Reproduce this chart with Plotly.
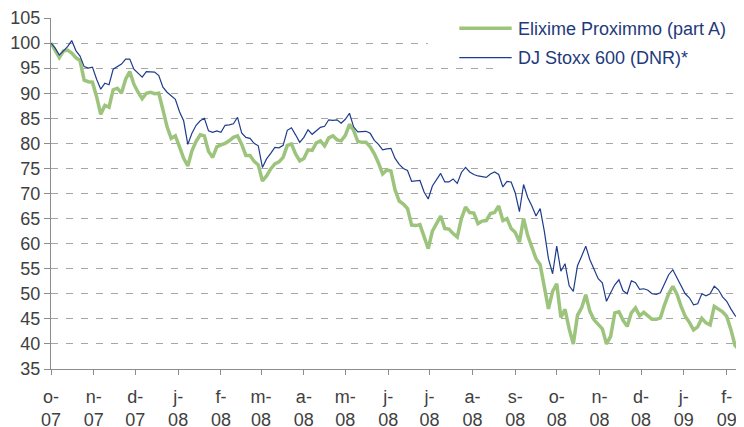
import pandas as pd
import plotly.graph_objects as go

# DJ Stoxx 600 (DNR)* - values read every 3 days from 1 Oct 2007
blue = [
    100, 99, 97.6, 98.4, 99.3, 100.5, 98.5, 97.4, 95.3, 95,
    95.2, 92.8, 90.8, 92, 91.7, 94.8, 95.3, 95.8, 96.8, 96.8,
    94.8, 94, 93.2, 94.3, 94.3, 94.2, 93.5, 91.2, 90.2, 89.4,
    88.8, 86.3, 84.5, 79.8, 82, 83.6, 84.5, 85, 82.5, 82.2,
    82.5, 82.2, 83.6, 83.7, 83.9, 85.2, 82.1, 81.2, 81, 80,
    79.5, 75.2, 76.9, 78, 79.2, 79.1, 79.6, 82.6, 83.1, 81.7,
    80.2, 81.2, 82.7, 81.8, 82.5, 83.2, 83.4, 84.7, 84.6, 84.7,
    84, 84.8, 86, 83.3, 82.3, 82.4, 82.4, 82, 80.6, 79.8,
    78.7, 78.9, 79, 77, 75.8, 75, 74.6, 72.4, 72.5, 72.6,
    70.3, 68.9, 71.5, 72.8, 74, 72.3, 72.3, 72.9, 72, 74.2,
    75.2, 74.3, 73.8, 73.5, 73.3, 73.2, 73.9, 74.3, 73.8, 71.3,
    72.4, 72.3, 70.1, 66.4, 71.8, 69.2, 67.5, 65.5, 67, 62.5,
    57, 54, 59.5, 54.5, 56, 51.6, 50.5, 55.6, 57.5, 59.5,
    56.8, 55, 53, 52.2, 48.5, 50.2, 51.8, 52.8, 50.6, 50,
    52.6, 52.2, 50.9, 51, 50.7, 50, 49.9, 50.2, 52, 53.8,
    54.8, 53.2, 51.6, 50, 49.2, 47.8, 48, 50, 49.6, 50,
    51.5, 50.8, 49.4, 48.5, 47, 45.7, 44.9, 45.5,
]

# Elixime Proximmo (part A)
green = [
    100, 98.6, 97.1, 98.4, 98.6, 98, 97.1, 96.5, 92.6, 92.3,
    92.2, 89.3, 85.8, 87.6, 87.2, 90.7, 91, 90, 92.8, 94.3,
    91.8, 90.2, 88.9, 90, 90.2, 89.9, 90, 86.7, 83.3, 81,
    81.5, 79.3, 77, 75.5, 78.5, 80.4, 81.7, 81.5, 78.4, 77.2,
    79.3, 79.7, 80, 80.5, 81.2, 81.5, 79.8, 77.6, 77.6, 76.4,
    75.7, 72.5, 73.5, 74.9, 75.9, 76.3, 77.2, 79.6, 79.9, 77.9,
    76.5, 77, 78.7, 78.6, 80.1, 80.5, 79.5, 81.1, 81.5, 80.7,
    80.5, 81.6, 83.8, 82.6, 80.4, 80.2, 80.2, 79.3, 77.9, 76.1,
    73.9, 74.7, 74.5, 70.7, 68.5, 67.9, 67, 63.7, 63.6, 63.8,
    61.2, 59, 62.5, 64.1, 65.5, 63, 62.9, 62, 61.3, 65,
    67.3, 66.2, 66.1, 64, 64.5, 64.6, 66, 66.2, 67.5, 64.6,
    65, 63, 62.2, 60.3, 65, 61.6, 59.5, 57, 55.8, 51.7,
    47, 50.5, 52, 45.3, 46.9, 43, 40, 45.7, 47.2, 49.8,
    46.5, 44.8, 44, 43, 40, 41.5, 46.2, 46.4, 44.7, 43.5,
    46.2, 47.2, 45.6, 46.3, 45.6, 44.9, 44.9, 45.2, 47.8, 50,
    51.5, 49.9, 47.5, 45.5, 44.3, 42.8, 43.4, 45.1, 44.2, 43.8,
    47.5, 47, 46.4, 45.5, 42.9, 39.7, 38.8, 39.5,
]

dates = pd.date_range("2007-10-01", periods=len(blue), freq="3D")

tick_dates = ["2007-10-01", "2007-11-01", "2007-12-01", "2008-01-01", "2008-02-01",
              "2008-03-01", "2008-04-01", "2008-05-01", "2008-06-01", "2008-07-01",
              "2008-08-01", "2008-09-01", "2008-10-01", "2008-11-01", "2008-12-01",
              "2009-01-01", "2009-02-01"]
tick_text = ["o-<br>07", "n-<br>07", "d-<br>07", "j-<br>08", "f-<br>08",
             "m-<br>08", "a-<br>08", "m-<br>08", "j-<br>08", "j-<br>08",
             "a-<br>08", "s-<br>08", "o-<br>08", "n-<br>08", "d-<br>08",
             "j-<br>09", "f-<br>09"]

names = ["Elixime Proximmo (part A)", "DJ Stoxx 600 (DNR)*"]
GREEN = "#9DC47C"
BLUE = "#1F3C8C"
TXT = "#404040"
AX = "#8C8C8C"
GRID = "#A6A6A6"

fig = go.Figure()
fig.add_trace(go.Scatter(x=dates, y=green, mode="lines", name=names[0],
                         line=dict(color=GREEN, width=3.5), showlegend=False))
fig.add_trace(go.Scatter(x=dates, y=blue, mode="lines", name=names[1],
                         line=dict(color=BLUE, width=1.2), showlegend=False))

# page has an 8px body margin: figure is placed at (8, 8)
OFF = 8
W, H = 744 - OFF, 427 - OFF
L, R, T, B = 51 - OFF, 1, 18 - OFF, 58
pw, ph = W - L - R, H - T - B

def px(x):
    # x given in page pixels
    return (x - OFF - L) / pw

def py(y):
    # y given in page pixels
    return (H - B - (y - OFF)) / ph

shapes = [
    dict(type="rect", xref="paper", yref="paper", x0=px(428), x1=1.0, y0=py(50), y1=py(10),
         fillcolor="white", line=dict(width=0), layer="above"),
    dict(type="rect", xref="paper", yref="paper", x0=px(500), x1=1.0, y0=py(78), y1=py(10),
         fillcolor="white", line=dict(width=0), layer="above"),
    dict(type="line", xref="paper", yref="paper", x0=px(459.3), x1=px(511.7), y0=py(28.3), y1=py(28.3),
         line=dict(color=GREEN, width=3.5), layer="above"),
    dict(type="line", xref="paper", yref="paper", x0=px(459.3), x1=px(511.7), y0=py(57.7), y1=py(57.7),
         line=dict(color=BLUE, width=1.2), layer="above"),
]
annotations = [
    dict(xref="paper", yref="paper", x=px(515.5), y=py(29.5), text=names[0], showarrow=False,
         xanchor="left", yanchor="middle", font=dict(size=18, color="#1F3A7A")),
    dict(xref="paper", yref="paper", x=px(515.5), y=py(58), text=names[1], showarrow=False,
         xanchor="left", yanchor="middle", font=dict(size=18, color="#1F3A7A")),
]

fig.update_layout(
    width=W, height=H,
    margin=dict(l=L, r=R, t=T, b=B, autoexpand=False),
    plot_bgcolor="white", paper_bgcolor="white",
    font=dict(family="Liberation Sans, Arial, sans-serif", size=18, color=TXT),
    shapes=shapes, annotations=annotations,
    showlegend=False,
)
fig.update_xaxes(
    type="date",
    range=["2007-10-01", "2009-02-12 19:00"],
    tickmode="array", tickvals=tick_dates, ticktext=tick_text,
    showgrid=False, zeroline=False,
    showline=True, linecolor=AX, linewidth=1,
    ticks="outside", ticklen=5, tickcolor=AX, tickwidth=1,
    ticklabelstandoff=6,
    tickfont=dict(size=18, color=TXT),
)
fig.update_yaxes(
    range=[35, 105], dtick=5, tick0=35,
    showgrid=True, gridcolor=GRID, gridwidth=1, griddash="7px,8px",
    zeroline=False,
    showline=True, linecolor=AX, linewidth=1,
    ticks="outside", ticklen=6, tickcolor=AX, tickwidth=1,
    ticklabelstandoff=0,
    tickfont=dict(size=18, color=TXT),
)

fig.write_html("out.html")
